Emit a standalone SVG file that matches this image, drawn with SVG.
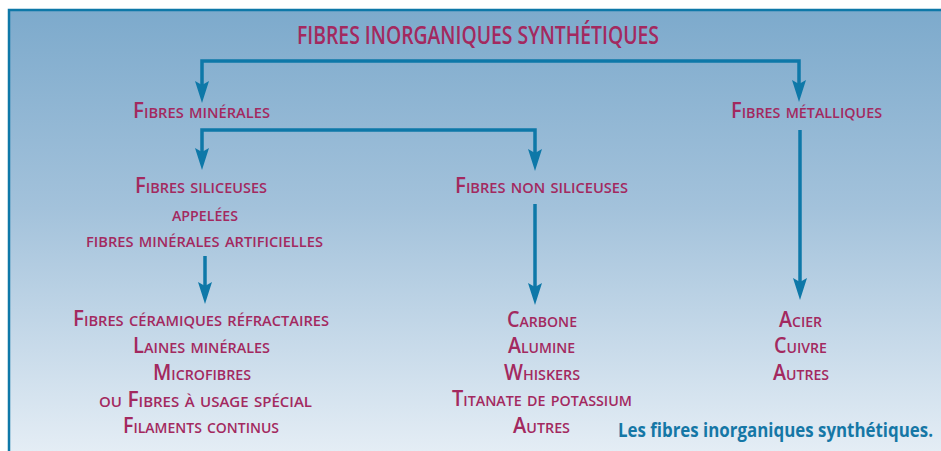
<svg xmlns="http://www.w3.org/2000/svg" width="941" height="451" viewBox="0 0 941 451">
<defs>
<linearGradient id="bg" x1="0" y1="0" x2="0" y2="1">
<stop offset="0" stop-color="#7DAACC"/>
<stop offset="0.45" stop-color="#A3C2DB"/>
<stop offset="1" stop-color="#E4EDF5"/>
</linearGradient>
<marker id="arr" viewBox="0 0 22 14" markerWidth="22" markerHeight="14" markerUnits="userSpaceOnUse" refX="10" refY="7" orient="auto-start-reverse">
<path d="M0,0 L22,7 L0,14 L4,7 Z" fill="#0E78A8"/>
</marker>
<style>
.n{font-family:"Open Sans","DejaVu Sans","Liberation Sans",sans-serif;font-weight:600;font-variant:small-caps;fill:#A3295F;text-anchor:middle;font-size:21px}
.t{font-family:"Open Sans","DejaVu Sans","Liberation Sans",sans-serif;font-weight:600;fill:#A3295F;text-anchor:middle;font-size:25px}
.cap{font-family:"Open Sans","Liberation Sans",sans-serif;font-weight:700;fill:#1577A6;font-size:19px}
.c{fill:none;stroke:#0E78A8;stroke-width:3.5}
</style>
</defs>
<rect x="0" y="0" width="941" height="451" fill="#FFFFFF"/>
<rect x="9" y="10" width="932" height="441" fill="url(#bg)"/>
<path d="M9,451 V10 H941" fill="none" stroke="#0E78A8" stroke-width="2.5"/>

<g id="connectors">
<path class="c" d="M202,91 V61 H799 V90" marker-start="url(#arr)" marker-end="url(#arr)"/>
<path class="c" d="M202,158 V130 H535 V159" marker-start="url(#arr)" marker-end="url(#arr)"/>
<path class="c" d="M205,256 V292" marker-end="url(#arr)"/>
<path class="c" d="M535,204 V293" marker-end="url(#arr)"/>
<path class="c" d="M800,130 V288" marker-end="url(#arr)"/>
</g>

<g id="title"><text class="t" x="478" y="44" textLength="362" lengthAdjust="spacingAndGlyphs">FIBRES INORGANIQUES SYNTHÉTIQUES</text></g>
<g id="fibres-minerales"><text class="n" x="201.5" y="118" textLength="137" lengthAdjust="spacingAndGlyphs">Fibres minérales</text></g>
<g id="fibres-metalliques"><text class="n" x="806.5" y="118" textLength="151" lengthAdjust="spacingAndGlyphs">Fibres métalliques</text></g>
<g id="fibres-siliceuses">
<text class="n" x="201" y="193" textLength="132" lengthAdjust="spacingAndGlyphs">Fibres siliceuses</text>
<text class="n" x="205" y="221" textLength="66" lengthAdjust="spacingAndGlyphs">appelées</text>
<text class="n" x="204.5" y="247" textLength="237" lengthAdjust="spacingAndGlyphs">fibres minérales artificielles</text>
</g>
<g id="fibres-non-siliceuses"><text class="n" x="541.5" y="193" textLength="173" lengthAdjust="spacingAndGlyphs">Fibres non siliceuses</text></g>
<g id="liste-siliceuses">
<text class="n" x="201" y="326" textLength="256" lengthAdjust="spacingAndGlyphs">Fibres céramiques réfractaires</text>
<text class="n" x="201.5" y="353" textLength="137" lengthAdjust="spacingAndGlyphs">Laines minérales</text>
<text class="n" x="202" y="380" textLength="98" lengthAdjust="spacingAndGlyphs">Microfibres</text>
<text class="n" x="205.5" y="407" textLength="213" lengthAdjust="spacingAndGlyphs">ou Fibres à usage spécial</text>
<text class="n" x="201" y="433" textLength="156" lengthAdjust="spacingAndGlyphs">Filaments continus</text>
</g>
<g id="liste-non-siliceuses">
<text class="n" x="542" y="327" textLength="70" lengthAdjust="spacingAndGlyphs">Carbone</text>
<text class="n" x="541.5" y="353" textLength="67" lengthAdjust="spacingAndGlyphs">Alumine</text>
<text class="n" x="542" y="380" textLength="76" lengthAdjust="spacingAndGlyphs">Whiskers</text>
<text class="n" x="542" y="406" textLength="180" lengthAdjust="spacingAndGlyphs">Titanate de potassium</text>
<text class="n" x="541.5" y="433" textLength="57" lengthAdjust="spacingAndGlyphs">Autres</text>
</g>
<g id="liste-metalliques">
<text class="n" x="800.5" y="327" textLength="43" lengthAdjust="spacingAndGlyphs">Acier</text>
<text class="n" x="800.5" y="353" textLength="53" lengthAdjust="spacingAndGlyphs">Cuivre</text>
<text class="n" x="801" y="380" textLength="56" lengthAdjust="spacingAndGlyphs">Autres</text>
</g>
<g id="caption"><text class="cap" x="618" y="437" textLength="315" lengthAdjust="spacingAndGlyphs">Les fibres inorganiques synthétiques.</text></g>
</svg>
